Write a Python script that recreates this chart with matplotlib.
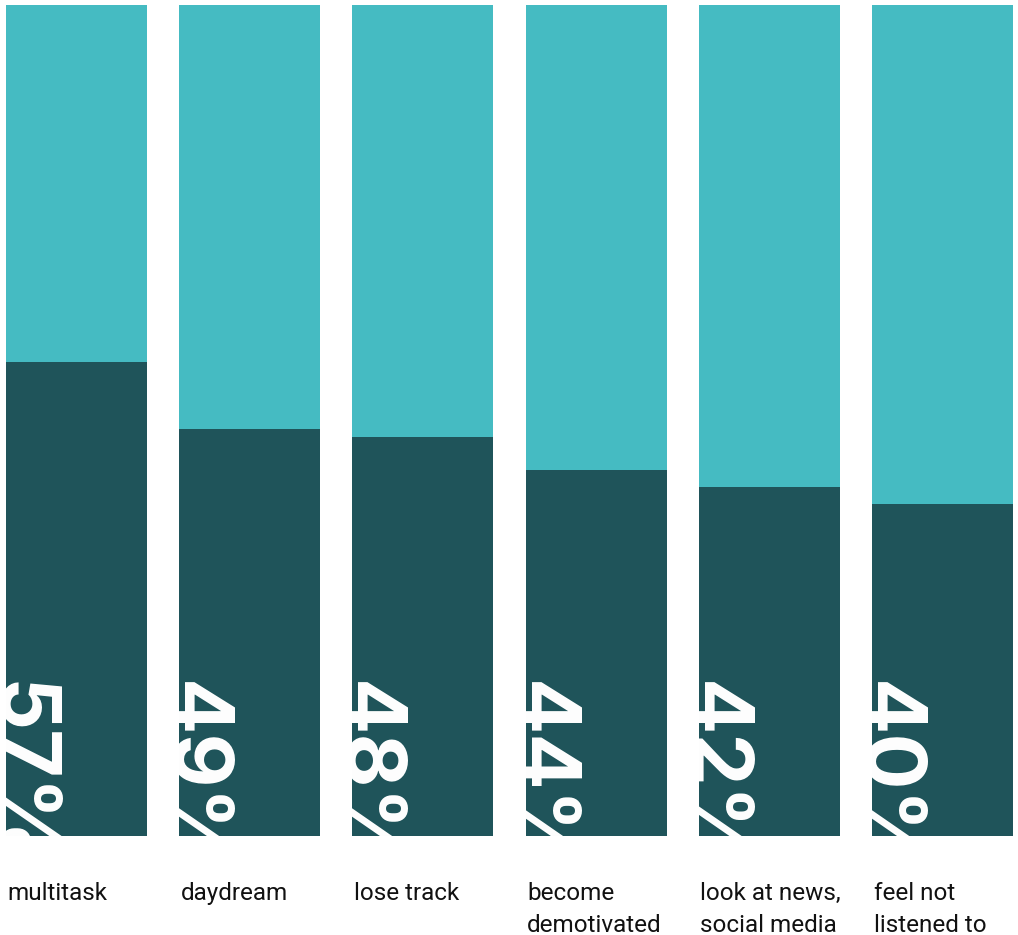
import matplotlib
matplotlib.use("Agg")
import matplotlib.pyplot as plt
from matplotlib.transforms import blended_transform_factory

categories = ["multitask", "daydream", "lose track", "become\ndemotivated",
              "look at news,\nsocial media", "feel not\nlistened to"]
values = [57, 49, 48, 44, 42, 40]
value_labels = ["57%", "49%", "48%", "44%", "42%", "40%"]

LIGHT = "#45bbc2"
DARK = "#1f545a"
W, H = 1018, 935
bar_w = 0.815

fig = plt.figure(figsize=(W / 100, H / 100), dpi=100)
ax = fig.add_axes([6 / W, 1 - 836 / H, (1013 - 6) / W, (836 - 5) / H])
ax.set_xlim(-bar_w / 2, len(values) - 1 + bar_w / 2)
ax.set_ylim(0, 100)
ax.axis("off")

xs = list(range(len(values)))
ax.bar(xs, [100] * len(values), width=bar_w, color=LIGHT, linewidth=0)
bars = ax.bar(xs, values, width=bar_w, color=DARK, linewidth=0)

# big rotated values, pushed partly outside the bar and clipped to it
for x, bar, lab in zip(xs, bars, value_labels):
    t = ax.text(x - bar_w / 2 - 0.058, 18.7, lab, rotation=-90, rotation_mode="anchor",
                ha="left", va="baseline", color="white", fontsize=60,
                fontweight="bold", family="Inter")
    t.set_clip_path(bar)

trans = blended_transform_factory(ax.transData, fig.transFigure)
for x, cat in zip(xs, categories):
    fig.text(x - bar_w / 2 + 0.01, 1 - 882 / H, cat, transform=trans,
             ha="left", va="top", fontsize=17.5, family="Roboto",
             color="#111111", linespacing=1.5)

fig.savefig("out.png", dpi=100)
